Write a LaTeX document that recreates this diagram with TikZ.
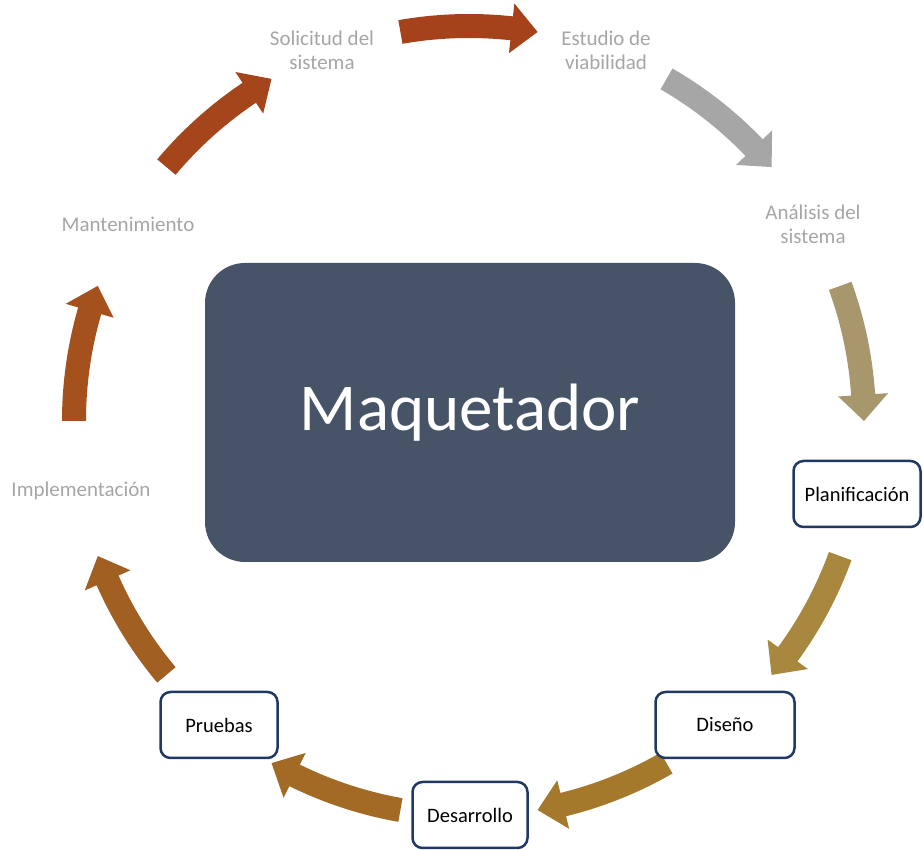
\documentclass[tikz,border=0pt]{standalone}
\usepackage{fontspec}
\setmainfont{Carlito}
\definecolor{rust}{RGB}{165,65,27}
\definecolor{rustb}{RGB}{165,69,28}
\definecolor{arrgray}{RGB}{166,166,166}
\definecolor{tan1}{RGB}{168,150,108}
\definecolor{tan2}{RGB}{168,136,62}
\definecolor{tan3}{RGB}{164,121,44}
\definecolor{tan4}{RGB}{162,106,36}
\definecolor{tan5}{RGB}{162,95,34}
\definecolor{tan6}{RGB}{164,81,30}
\definecolor{slate}{RGB}{71,84,103}
\definecolor{navy}{RGB}{31,56,100}
\definecolor{lbl}{RGB}{166,166,166}
\newcommand\cycarrow[3]{%
  \pgfmathsetmacro\myhead{#2+3.8}%
  \fill[#3] (#1:407) arc[start angle=#1, end angle=\myhead, radius=407]
    -- (\myhead:420) -- (#2:395) -- (\myhead:370) -- (\myhead:383)
    arc[start angle=\myhead, end angle=#1, radius=383] -- cycle;}
\begin{document}
\begin{tikzpicture}[x=1pt,y=1pt,
  graylabel/.style={text=lbl,font=\fontsize{21}{24}\selectfont,align=center},
  stepbox/.style={draw=navy,line width=2.5pt,rounded corners=10pt,fill=white,
    minimum height=66pt,inner sep=0pt,font=\fontsize{20.5}{24}\selectfont,text=black}]
\useasboundingbox (0,0) rectangle (923,850);
% center box
\node[fill=slate,rounded corners=40pt,minimum width=530pt,minimum height=299pt,
  inner sep=0pt,text=white,font=\fontsize{67}{70}\selectfont] (center) at (470,437.5) {Maquetador};
% arrows
\begin{scope}[shift={(469,429)}]
\cycarrow{140}{120}{rustb}
\cycarrow{100}{80}{rust}
\cycarrow{60}{40}{arrgray}
\cycarrow{20}{0}{tan1}
\cycarrow{-20}{-40}{tan2}
\cycarrow{-60}{-80}{tan3}
\cycarrow{-100}{-120}{tan4}
\cycarrow{-140}{-160}{tan5}
\cycarrow{180}{160}{tan6}
\end{scope}
% labels
\node[graylabel] (sol) at (322,800) {Solicitud del\\sistema};
\node[graylabel] (est) at (606,800) {Estudio de\\viabilidad};
\node[graylabel] (ana) at (813,626) {Análisis del\\sistema};
\node[graylabel] (man) at (128,626) {Mantenimiento};
\node[graylabel] (imp) at (81,359) {Implementación};
% boxes
\node[stepbox,minimum width=127pt] (pla) at (857,356) {Planificación};
\node[stepbox,minimum width=139pt] (dis) at (725,125) {Diseño};
\node[stepbox,minimum width=115pt] (des) at (470,35) {Desarrollo};
\node[stepbox,minimum width=117pt] (pru) at (219,125) {Pruebas};
\end{tikzpicture}
\end{document}
